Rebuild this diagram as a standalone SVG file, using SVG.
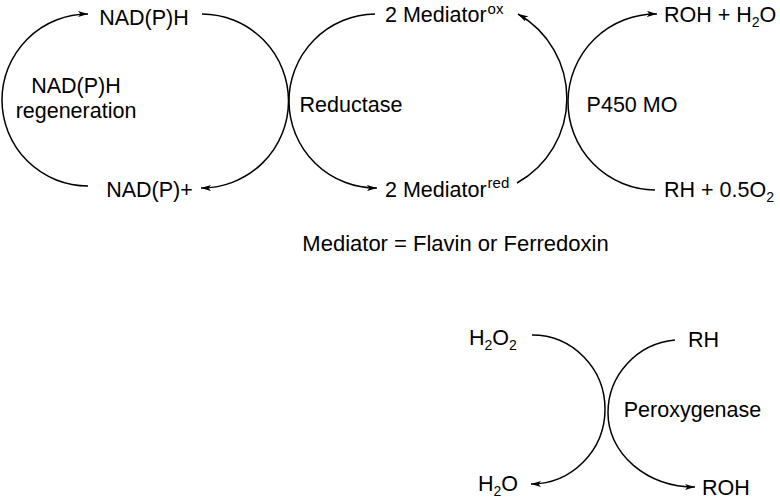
<svg xmlns="http://www.w3.org/2000/svg" width="780" height="500" viewBox="0 0 780 500">
<defs>
<style>
.t{font-family:"Liberation Sans",Arial,sans-serif;font-size:21.5px;fill:#000}
.m{text-anchor:middle}
.s{font-size:14px}
.sp{font-size:15px}
.c{fill:none;stroke:#000;stroke-width:1.5}
.a{marker-end:url(#ah)}
</style>
<marker id="ah" markerUnits="userSpaceOnUse" viewBox="0 0 10 6" markerWidth="10" markerHeight="6" refX="10" refY="3" orient="auto">
<path d="M0,0 L10,3 L0,6 L2.5,3 z" fill="#000"/>
</marker>
</defs>
<rect width="780" height="500" fill="#fff"/>
<g id="connectors">
<path class="c a" d="M88,186 A86,86 0 0 1 88,14"/>
<path class="c a" d="M202,14 A87,87 0 0 1 201,188"/>
<path class="c a" d="M375,14 A87,87 0 0 0 377,188"/>
<path class="c a" d="M517,183 A97,97 0 0 0 518,14"/>
<path class="c a" d="M655,190 A88,88 0 0 1 657,14"/>
<path class="c a" d="M532,335 A73,74 0 0 1 605,409 A74,75 0 0 1 531,484"/>
<path class="c a" d="M675,340 A74,73 0 0 0 608,413 A87,74 0 0 0 695,487"/>
</g>
<g id="nadph"><text class="t m" x="144" y="25">NAD(P)H</text></g>
<g id="nadp"><text class="t m" x="149.5" y="197">NAD(P)+</text></g>
<g id="regen"><text class="t m" x="76" y="93">NAD(P)H</text><text class="t m" x="76" y="118">regeneration</text></g>
<g id="reductase"><text class="t m" x="351" y="112">Reductase</text></g>
<g id="medox"><text class="t" x="385" y="22">2 Mediator<tspan class="sp" dx="1" dy="-8">ox</tspan></text></g>
<g id="medred"><text class="t" x="385" y="197">2 Mediator<tspan class="sp" dx="1" dy="-9">red</tspan></text></g>
<g id="p450"><text class="t m" x="632" y="112">P450 MO</text></g>
<g id="roh1"><text class="t" x="664" y="22">ROH + H<tspan class="s" dy="5">2</tspan><tspan dy="-5">O</tspan></text></g>
<g id="rh1"><text class="t" x="664" y="197">RH + 0.5O<tspan class="s" dy="5">2</tspan></text></g>
<g id="mediator-note"><text class="t m" x="455.5" y="251" style="font-size:22px">Mediator = Flavin or Ferredoxin</text></g>
<g id="h2o2"><text class="t" x="469" y="345">H<tspan class="s" dy="5">2</tspan><tspan dy="-5">O</tspan><tspan class="s" dy="5">2</tspan></text></g>
<g id="rh2"><text class="t" x="688" y="347">RH</text></g>
<g id="peroxygenase"><text class="t m" x="692.5" y="417">Peroxygenase</text></g>
<g id="h2o"><text class="t" x="478" y="491">H<tspan class="s" dy="5">2</tspan><tspan dy="-5">O</tspan></text></g>
<g id="roh2"><text class="t" x="702" y="495">ROH</text></g>
</svg>
